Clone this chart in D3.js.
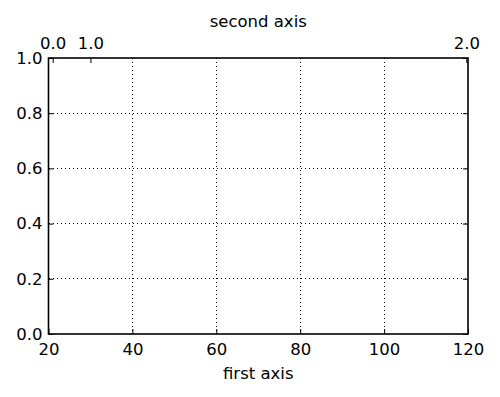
<!DOCTYPE html>
<head>
  <meta charset="utf-8">
  <title>index.html</title>
</head>
<style>
body { margin: 0; background: #fff; }
text { font-family: "DejaVu Sans", sans-serif; fill: #000; }
.grid line { stroke: #000; stroke-width: 1; stroke-dasharray: 1,3; shape-rendering: crispEdges; }
.tick line { stroke: #000; stroke-width: 1; }
</style>
<svg width="500" height="397"></svg>
<script src="https://d3js.org/d3.v7.min.js"></script>
<script>
var svg = d3.select("svg"),
    margin = { top: 58, bottom: 63, right: 32, left: 48.5 },
    width = +svg.attr("width"),
    height = +svg.attr("height");

// first (bottom) axis
var xDomain = [20, 120];
var xTicks = [20, 40, 60, 80, 100, 120];
// left axis
var yDomain = [0, 1];
var yTicks = [0, 0.2, 0.4, 0.6, 0.8, 1.0];
// second (top) axis: tick values and where they sit on the first axis
var topTicks = [0, 1, 2];
var topTickAt = [21, 30, 119.6];

var x = d3.scaleLinear().domain(xDomain).range([margin.left, width - margin.right]);
var y = d3.scaleLinear().domain(yDomain).range([height - margin.bottom, margin.top]);
var top2 = d3.scaleLinear().domain(topTicks).range(topTickAt.map(x));

// gridlines
svg.append("g").attr("class", "grid")
  .selectAll("line").data(xTicks.slice(1, -1)).enter().append("line")
    .attr("x1", d => x(d)).attr("x2", d => x(d))
    .attr("y1", y(1)).attr("y2", y(0));
svg.append("g").attr("class", "grid")
  .selectAll("line").data(yTicks.slice(1, -1)).enter().append("line")
    .attr("y1", d => y(d)).attr("y2", d => y(d))
    .attr("x1", x(20)).attr("x2", x(120));

// axes, ticks inward
var bottom = svg.append("g")
  .attr("transform", "translate(0," + y(0) + ")")
  .call(d3.axisBottom(x).tickValues(xTicks).tickSizeInner(-5).tickSizeOuter(0).tickPadding(9).tickFormat(d3.format("d")));
var left = svg.append("g")
  .attr("transform", "translate(" + x(20) + ",0)")
  .call(d3.axisLeft(y).tickValues(yTicks).tickSizeInner(-5).tickSizeOuter(0).tickPadding(6).tickFormat(d3.format(".1f")));
var right = svg.append("g")
  .attr("transform", "translate(" + x(120) + ",0)")
  .call(d3.axisRight(y).tickValues(yTicks).tickSizeInner(-5).tickSizeOuter(0).tickFormat(""));
var topAx = svg.append("g")
  .attr("transform", "translate(0," + y(1) + ")")
  .call(d3.axisTop(top2).tickValues(topTicks).tickSizeInner(-5).tickSizeOuter(0).tickPadding(9).tickFormat(d3.format(".1f")));

[bottom, left, right, topAx].forEach(function(g) {
  g.select(".domain").remove();
  g.selectAll("text").style("font-size", "16.5px").attr("font-family", null);
});

// frame
svg.append("rect")
  .attr("x", x(20)).attr("y", y(1))
  .attr("width", x(120) - x(20)).attr("height", y(0) - y(1))
  .attr("fill", "none").attr("stroke", "#000").attr("stroke-width", 1.6);

// labels
svg.append("text").attr("x", (x(20) + x(120)) / 2).attr("y", 379)
  .attr("text-anchor", "middle").style("font-size", "16.5px").text("first axis");
svg.append("text").attr("x", (x(20) + x(120)) / 2).attr("y", 27)
  .attr("text-anchor", "middle").style("font-size", "16.5px").text("second axis");
</script>
